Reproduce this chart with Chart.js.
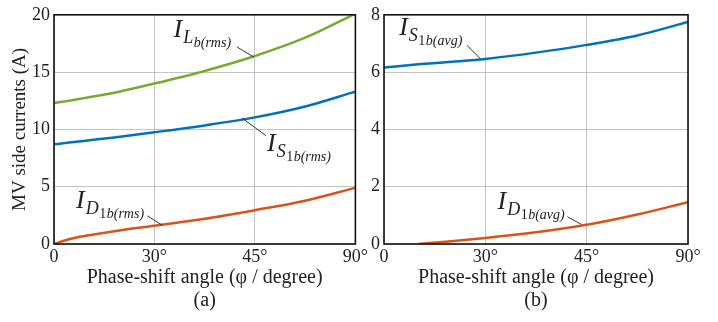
<!DOCTYPE html>
<html>
<head>
<meta charset="utf-8">
<script src="https://cdn.jsdelivr.net/npm/chart.js@4.4.0/dist/chart.umd.min.js"></script>
<style>
  body { margin: 0; background: #fff; }
  #wrap { position: relative; width: 718px; height: 322px; }
  canvas { position: absolute; top: 0; }
</style>
</head>
<body>
<div id="wrap">
  <canvas id="chartA" width="370" height="322" style="left:0"></canvas>
  <canvas id="chartB" width="348" height="322" style="left:370px"></canvas>
</div>
<script>
// x axis is not linear in degrees: ticks are evenly spaced, so x values are tick positions
const xTickLabels = ["0", "30°", "45°", "90°"];

// (a) rms currents
const xPosA = [0, 0.15, 0.35, 0.6, 1, 1.5, 2, 2.5, 3];
const iLbRms = [12.3, 12.5, 12.8, 13.2, 14.0, 15.1, 16.4, 18.0, 20.1];
const iS1bRms = [8.7, 8.85, 9.05, 9.3, 9.75, 10.35, 11.05, 12.0, 13.3];
const iD1bRms = [0, 0.42, 0.76, 1.12, 1.6, 2.2, 2.95, 3.78, 4.9];

// (b) average currents
const xPosB = [0, 0.34, 0.67, 1, 1.5, 2, 2.5, 3];
const iS1bAvg = [6.16, 6.27, 6.36, 6.46, 6.68, 6.95, 7.28, 7.75];
const iD1bAvg = [null, 0, 0.1, 0.21, 0.41, 0.67, 1.03, 1.46];

const GREEN = "#77AC30", BLUE = "#0072BD", ORANGE = "#D95319";
const SERIF = '"Liberation Serif", "DejaVu Serif", serif';
const TXT = "#222";

function pts(xs, ys) {
  return xs.map((x, i) => ({ x: x, y: ys[i] }));
}

function line(label, xs, ys, color) {
  return {
    label: label,
    data: pts(xs, ys),
    borderColor: color,
    borderWidth: 2.5,
    pointRadius: 0,
    cubicInterpolationMode: "monotone",
    spanGaps: false
  };
}

// I with nested subscripts, drawn like the LaTeX labels
function mathParts(sub, num, rest) {
  const parts = [
    { t: "I", size: 26, italic: true, dy: 0, gap: 1 },
    { t: sub, size: 18, italic: true, dy: 6, gap: 0.5 }
  ];
  if (num) parts.push({ t: num, size: 14, italic: false, dy: 10, gap: 0.5 });
  parts.push({ t: rest, size: 14, italic: true, dy: 10, gap: 0 });
  return parts;
}

const mathLabels = {
  id: "mathLabels",
  afterDatasetsDraw(chart, args, opts) {
    const ctx = chart.ctx;
    const xs = chart.scales.x, ys = chart.scales.y;
    ctx.save();
    (opts.items || []).forEach(a => {
      // leader line
      ctx.strokeStyle = "#333";
      ctx.lineWidth = 1;
      ctx.beginPath();
      ctx.moveTo(xs.getPixelForValue(a.from[0]), ys.getPixelForValue(a.from[1]));
      ctx.lineTo(xs.getPixelForValue(a.to[0]), ys.getPixelForValue(a.to[1]));
      ctx.stroke();
      // text
      let cx = xs.getPixelForValue(a.at[0]);
      const by = ys.getPixelForValue(a.at[1]);
      ctx.fillStyle = TXT;
      ctx.textBaseline = "alphabetic";
      ctx.textAlign = "left";
      a.parts.forEach(p => {
        ctx.font = (p.italic ? "italic " : "") + p.size + "px " + SERIF;
        ctx.fillText(p.t, cx, by + p.dy);
        cx += ctx.measureText(p.t).width + p.gap;
      });
    });
    ctx.restore();
  }
};

const frame = {
  id: "frame",
  afterDraw(chart) {
    const { left, top, right, bottom } = chart.chartArea;
    const ctx = chart.ctx;
    ctx.save();
    ctx.strokeStyle = "#111";
    ctx.lineWidth = 1.6;
    ctx.strokeRect(left, top, right - left, bottom - top);
    ctx.restore();
  }
};

function makeOptions(yMax, yStep, yWidth, rightPad, caption, yTitle, items) {
  return {
    responsive: false,
    animation: false,
    layout: { padding: { left: 0, right: rightPad, top: 6, bottom: 0 } },
    plugins: {
      legend: { display: false },
      tooltip: { enabled: false },
      mathLabels: { items: items }
    },
    scales: {
      x: {
        type: "linear",
        min: 0, max: 3,
        afterFit: s => { s.height = 78; },
        afterBuildTicks: s => { s.ticks = [0, 1, 2, 3].map(v => ({ value: v })); },
        grid: { color: "#c4c4c4", lineWidth: 1, drawTicks: false },
        border: { display: false },
        ticks: {
          padding: 2,
          maxRotation: 0,
          color: TXT,
          font: { family: SERIF, size: 18 },
          callback: v => xTickLabels[v]
        },
        title: {
          display: true,
          text: ["Phase-shift angle (φ / degree)", caption],
          color: TXT,
          font: { family: SERIF, size: 20, lineHeight: 1.15 },
          padding: { top: 0, bottom: 10 }
        }
      },
      y: {
        min: 0, max: yMax,
        afterFit: s => { s.width = yWidth; },
        grid: { color: "#c4c4c4", lineWidth: 1, drawTicks: false },
        border: { display: false },
        ticks: {
          stepSize: yStep,
          padding: 4,
          color: TXT,
          font: { family: SERIF, size: 18 }
        },
        title: {
          display: !!yTitle,
          text: yTitle,
          color: TXT,
          font: { family: SERIF, size: 19 },
          padding: { top: 9, bottom: 0 }
        }
      }
    }
  };
}

new Chart(document.getElementById("chartA"), {
  type: "line",
  data: {
    datasets: [
      line("I_Lb(rms)", xPosA, iLbRms, GREEN),
      line("I_S1b(rms)", xPosA, iS1bRms, BLUE),
      line("I_D1b(rms)", xPosA, iD1bRms, ORANGE)
    ]
  },
  options: makeOptions(20, 5, 54, 12, "(a)", "MV side currents (A)", [
    { at: [1.19, 18.1], from: [1.82, 17.2], to: [1.99, 16.3], parts: mathParts("L", "", "b(rms)") },
    { at: [2.12, 8.1], from: [1.87, 11.0], to: [2.11, 9.45], parts: mathParts("S", "1", "b(rms)") },
    { at: [0.22, 3.1], from: [0.93, 2.45], to: [1.08, 1.62], parts: mathParts("D", "1", "b(rms)") }
  ]),
  plugins: [mathLabels, frame]
});

new Chart(document.getElementById("chartB"), {
  type: "line",
  data: {
    datasets: [
      line("I_S1b(avg)", xPosB, iS1bAvg, BLUE),
      line("I_D1b(avg)", xPosB, iD1bAvg, ORANGE)
    ]
  },
  options: makeOptions(8, 2, 14, 30, "(b)", "", [
    { at: [0.15, 7.28], from: [0.82, 6.93], to: [0.95, 6.47], parts: mathParts("S", "1", "b(avg)") },
    { at: [1.12, 1.22], from: [1.81, 0.95], to: [1.95, 0.68], parts: mathParts("D", "1", "b(avg)") }
  ]),
  plugins: [mathLabels, frame]
});
</script>
</body>
</html>
